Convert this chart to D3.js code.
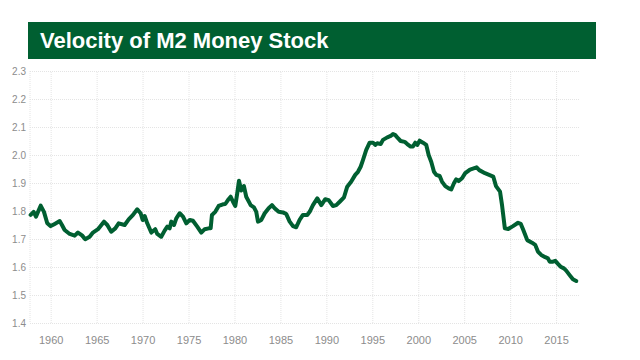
<!DOCTYPE html>
<html>
<head>
<meta charset="utf-8">
<script src="https://cdn.jsdelivr.net/npm/d3@7"></script>
<style>
  html, body { margin: 0; padding: 0; background: #fff; }
  svg { display: block; }
</style>
</head>
<body>
<svg id="chart" width="640" height="360"></svg>
<script>
// ---- Data ----
const title = "Velocity of M2 Money Stock";
const years = [
  1957.82,1958.15,1958.40,1958.91,1959.27,1959.63,1960.00,1960.44,1960.98,1961.23,
  1961.52,1962.07,1962.61,1962.97,1963.41,1963.76,1964.24,1964.60,1965.15,1965.80,
  1966.16,1966.59,1967.03,1967.40,1968.05,1968.49,1968.96,1969.42,1969.79,1970.01,
  1970.23,1970.51,1970.95,1971.38,1971.60,1972.03,1972.40,1972.69,1972.95,1973.12,
  1973.42,1973.67,1974.04,1974.40,1974.76,1975.13,1975.48,1975.95,1976.39,1976.76,
  1977.19,1977.41,1977.55,1977.91,1978.28,1978.75,1979.00,1979.29,1979.59,1979.84,
  1980.09,1980.30,1980.49,1980.74,1981.03,1981.28,1981.65,1981.76,1982.12,1982.37,
  1982.56,1982.92,1983.29,1983.72,1984.08,1984.37,1984.81,1985.28,1985.64,1986.01,
  1986.37,1986.72,1987.09,1987.45,1987.92,1988.18,1988.54,1989.01,1989.45,1989.88,
  1990.25,1990.72,1991.08,1991.45,1991.92,1992.27,1992.71,1993.14,1993.44,1993.73,
  1993.98,1994.34,1994.71,1995.07,1995.32,1995.54,1995.91,1996.16,1996.63,1997.00,
  1997.25,1997.50,1997.79,1998.08,1998.52,1998.80,1999.17,1999.42,1999.67,1999.89,
  2000.15,2000.51,2000.87,2001.13,2001.41,2001.71,2001.96,2002.33,2002.58,2002.94,
  2003.31,2003.59,2003.88,2004.13,2004.40,2004.76,2005.11,2005.63,2006.35,2006.64,
  2007.26,2008.16,2008.46,2008.90,2009.12,2009.42,2009.79,2010.31,2010.86,2011.15,
  2011.40,2011.58,2011.86,2012.37,2012.73,2013.02,2013.38,2013.82,2014.11,2014.30,
  2014.66,2014.91,2015.20,2015.49,2015.85,2016.10,2016.47,2016.83,2017.19
];
const velocity = [
  1.786,1.797,1.780,1.819,1.797,1.756,1.746,1.754,1.764,1.750,
  1.732,1.718,1.712,1.723,1.713,1.699,1.708,1.723,1.735,1.762,
  1.750,1.726,1.738,1.756,1.750,1.770,1.786,1.806,1.792,1.768,
  1.782,1.756,1.723,1.735,1.718,1.708,1.730,1.744,1.738,1.762,
  1.750,1.774,1.792,1.780,1.756,1.768,1.765,1.744,1.723,1.735,
  1.738,1.738,1.786,1.797,1.818,1.824,1.825,1.839,1.851,1.833,
  1.818,1.863,1.908,1.873,1.889,1.851,1.828,1.821,1.813,1.797,
  1.762,1.768,1.792,1.810,1.821,1.810,1.797,1.795,1.789,1.762,
  1.746,1.742,1.768,1.786,1.786,1.797,1.821,1.845,1.821,1.842,
  1.839,1.818,1.821,1.833,1.849,1.887,1.905,1.929,1.940,1.958,
  1.982,2.018,2.044,2.044,2.036,2.042,2.039,2.054,2.063,2.068,
  2.075,2.071,2.060,2.050,2.047,2.039,2.030,2.030,2.044,2.036,
  2.051,2.044,2.036,2.000,1.976,1.940,1.929,1.925,1.905,1.889,
  1.881,1.877,1.899,1.913,1.907,1.917,1.935,1.948,1.956,1.946,
  1.935,1.923,1.889,1.869,1.820,1.738,1.736,1.746,1.758,1.754,
  1.735,1.720,1.696,1.687,1.679,1.655,1.643,1.635,1.631,1.619,
  1.619,1.622,1.611,1.601,1.595,1.587,1.571,1.556,1.550
];
const xTickYears = [1960,1965,1970,1975,1980,1985,1990,1995,2000,2005,2010,2015];
const yTickValues = [1.4,1.5,1.6,1.7,1.8,1.9,2.0,2.1,2.2,2.3];

// ---- Layout ----
const green = "#005f31";
const gridColor = "#e4e4e4";
const labelColor = "#8c8c8c";
const font = "'Liberation Sans', Arial, Helvetica, sans-serif";
const plot = { left: 30, right: 580, top: 71, bottom: 323 };

const svg = d3.select("#chart");

// Title banner
svg.append("rect")
  .attr("x", 28).attr("y", 22).attr("width", 568).attr("height", 37)
  .attr("fill", green);
svg.append("text")
  .attr("x", 40).attr("y", 48)
  .attr("fill", "#fff")
  .attr("font-family", font)
  .attr("font-weight", "bold")
  .attr("font-size", 22)
  .text(title);

const x = d3.scaleLinear().domain([1957.75, 2017.6]).range([plot.left, plot.right]);
const y = d3.scaleLinear().domain([1.4, 2.3]).range([plot.bottom, plot.top]);

// Y grid + labels
const yAxis = d3.axisLeft(y)
  .tickValues(yTickValues)
  .tickFormat(d3.format(".1f"))
  .tickSize(-(plot.right - plot.left))
  .tickPadding(4);
const gy = svg.append("g")
  .attr("transform", `translate(${plot.left},0)`)
  .call(yAxis);
gy.select(".domain").remove();
gy.selectAll(".tick line")
  .attr("stroke", gridColor)
  .attr("stroke-dasharray", "1,1");
gy.selectAll(".tick text")
  .attr("fill", labelColor)
  .attr("font-family", font)
  .attr("font-size", 10);

// X grid + labels
const xAxis = d3.axisBottom(x)
  .tickValues(xTickYears)
  .tickFormat(d3.format("d"))
  .tickSize(-(plot.bottom - plot.top))
  .tickPadding(13);
const gx = svg.append("g")
  .attr("transform", `translate(0,${plot.bottom})`)
  .call(xAxis);
gx.select(".domain").remove();
gx.selectAll(".tick line")
  .attr("stroke", gridColor)
  .attr("stroke-dasharray", "1,1");
gx.selectAll(".tick text")
  .attr("fill", labelColor)
  .attr("font-family", font)
  .attr("font-size", 11);

// Left edge line
svg.append("line")
  .attr("x1", x(x.domain()[0])).attr("x2", x(x.domain()[0]))
  .attr("y1", plot.top).attr("y2", plot.bottom)
  .attr("stroke", gridColor)
  .attr("stroke-dasharray", "1,1");

// Series line
const data = years.map((yr, i) => ({ yr, v: velocity[i] }));
const line = d3.line()
  .x(d => x(d.yr))
  .y(d => y(d.v));
svg.append("path")
  .datum(data)
  .attr("fill", "none")
  .attr("stroke", green)
  .attr("stroke-width", 4)
  .attr("stroke-linejoin", "round")
  .attr("stroke-linecap", "round")
  .attr("d", line);
</script>
</body>
</html>
